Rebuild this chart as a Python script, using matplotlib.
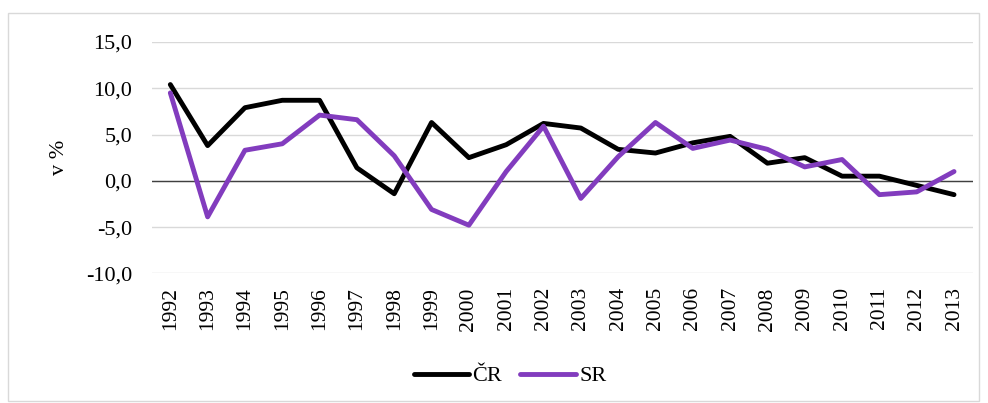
import matplotlib.pyplot as plt
from matplotlib.patches import Rectangle

years = [str(y) for y in range(1992, 2014)]
cr = [10.4, 3.8, 7.9, 8.7, 8.7, 1.4, -1.4, 6.3, 2.5, 3.9, 6.2,
      5.7, 3.4, 3.0, 4.1, 4.8, 1.9, 2.5, 0.5, 0.5, -0.5, -1.5]
sr = [9.5, -3.9, 3.3, 4.0, 7.1, 6.6, 2.7, -3.1, -4.8, 1.0, 5.9,
      -1.9, 2.6, 6.3, 3.5, 4.4, 3.4, 1.5, 2.3, -1.5, -1.2, 1.0]
yticks = [-10, -5, 0, 5, 10, 15]

plt.rcParams['font.family'] = ['Liberation Serif', 'DejaVu Serif']

fig = plt.figure(figsize=(9.88, 4.03), dpi=100)
ax = fig.add_axes([0.1535, 0.3218, 0.831, 0.574])

# outer chart border
fig.patches.append(Rectangle((8 / 988, 0.005), 971 / 988, 1 - 13 / 403 - 0.005,
                             transform=fig.transFigure, fill=False,
                             edgecolor='#D9D9D9', linewidth=1))

x = range(len(years))
ax.plot(x, cr, color='black', linewidth=3.5, label='ČR', solid_capstyle='round')
ax.plot(x, sr, color='#823CBE', linewidth=3.5, label='SR', solid_capstyle='round')

ax.set_xlim(-0.5, len(years) - 0.5)
ax.set_ylim(-10, 15)
ax.set_yticks(yticks)
ax.set_yticklabels([f'{v:.1f}'.replace('.', ',') for v in yticks], fontsize=16)
ax.set_xticks(list(x))
ax.set_xticklabels(years, rotation=90, fontsize=15.5)
ax.tick_params(axis='both', length=0)
ax.tick_params(axis='y', pad=14)
ax.tick_params(axis='x', pad=10)

ax.grid(axis='y', color='#D9D9D9', linewidth=1)
ax.set_axisbelow(True)
ax.axhline(0, color='#404040', linewidth=1, zorder=1.5)
for s in ax.spines.values():
    s.set_visible(False)

ax.set_ylabel('v %', fontsize=16, labelpad=12)

ax.legend(loc='center', bbox_to_anchor=(510 / 988, 1 - 376 / 403), bbox_transform=fig.transFigure,
          ncol=2, frameon=False, fontsize=16, handlelength=2.5, handletextpad=0.15,
          columnspacing=0.8)

fig.savefig('out.png', dpi=100)
